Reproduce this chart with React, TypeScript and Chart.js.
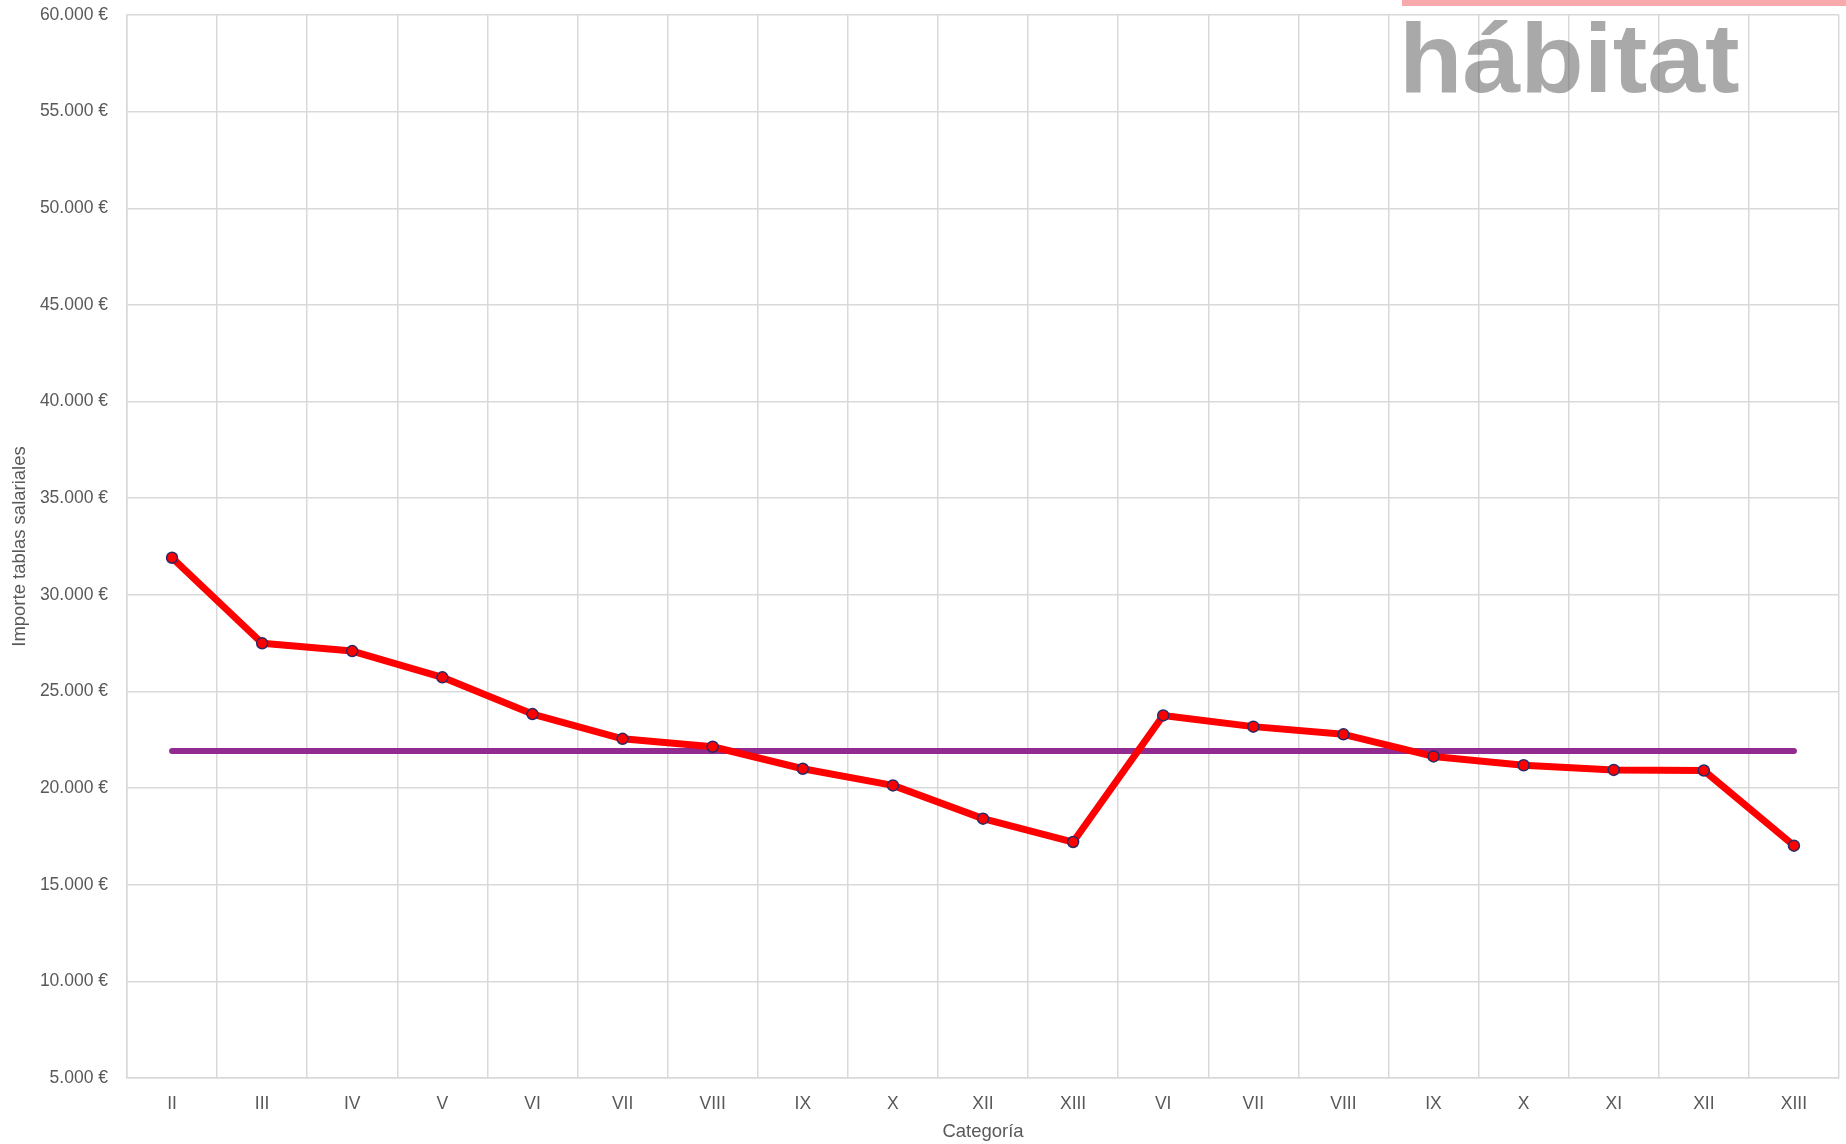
import React, { useEffect, useRef } from "react";
import { Chart, registerables } from "chart.js";

Chart.register(...registerables);

const categories = ["II", "III", "IV", "V", "VI", "VII", "VIII", "IX", "X", "XII", "XIII", "VI", "VII", "VIII", "IX", "X", "XI", "XII", "XIII"];
const salaries = [31920, 27490, 27090, 25730, 23830, 22550, 22140, 21000, 20140, 18420, 17210, 23760, 23180, 22780, 21640, 21180, 20940, 20910, 17020];
const average = [21920, 21920, 21920, 21920, 21920, 21920, 21920, 21920, 21920, 21920, 21920, 21920, 21920, 21920, 21920, 21920, 21920, 21920, 21920];
const yMin = 5000;
const yMax = 60000;
const yStep = 5000;
const xTitle = "Categoría";
const yTitle = "Importe tablas salariales";
const logoText = "hábitat";

const W = 1846;
const H = 1144;
const FONT = "'Liberation Sans', Arial, sans-serif";
const TXT = "#595959";
const GRID = "#d9d9d9";

function fmt(v: number): string {
  const s = Math.round(v).toString();
  const withDots = s.replace(/\B(?=(\d{3})+(?!\d))/g, ".");
  return withDots + " €";
}

export default function App() {
  const ref = useRef<HTMLCanvasElement | null>(null);

  useEffect(() => {
    document.body.style.margin = "0";
    const canvas = ref.current;
    if (!canvas) return;
    const chart = new Chart(canvas, {
      type: "line",
      data: {
        labels: categories,
        datasets: [
          {
            label: "Media",
            data: average,
            borderColor: "#912b8f",
            backgroundColor: "#912b8f",
            borderWidth: 6,
            pointRadius: 0,
            borderCapStyle: "round",
            tension: 0,
            order: 2,
          },
          {
            label: "Importe",
            data: salaries,
            borderColor: "#ff0000",
            backgroundColor: "#ff0000",
            borderWidth: 7,
            pointRadius: 5.5,
            pointBorderWidth: 1.5,
            pointBorderColor: "#2a2a66",
            pointBackgroundColor: "#ff0000",
            borderJoinStyle: "round",
            tension: 0,
            order: 1,
          },
        ],
      },
      options: {
        responsive: false,
        animation: false,
        layout: { padding: { top: 15, right: 6, left: 0, bottom: 0 } },
        plugins: {
          legend: { display: false },
          tooltip: { enabled: false },
        },
        scales: {
          x: {
            type: "category",
            offset: true,
            grid: { color: GRID, lineWidth: 1.5, drawTicks: false, offset: true },
            border: { color: GRID, width: 1.5 },
            ticks: {
              color: TXT,
              font: { family: FONT, size: 17.5 },
              padding: 16,
              maxRotation: 0,
              autoSkip: false,
            },
            title: {
              display: true,
              text: xTitle,
              color: TXT,
              font: { family: FONT, size: 18.5 },
              padding: { top: 0, bottom: 1 },
            },
            afterFit: (scale: any) => {
              scale.height = 66;
              scale.paddingLeft = 0;
              scale.paddingRight = 0;
            },
          },
          y: {
            min: yMin,
            max: yMax,
            grid: { color: GRID, lineWidth: 1.5, drawTicks: false },
            border: { color: GRID, width: 1.5 },
            ticks: {
              stepSize: yStep,
              color: TXT,
              font: { family: FONT, size: 17.5 },
              padding: 19,
              callback: (v: any) => fmt(Number(v)),
            },
            title: {
              display: true,
              text: yTitle,
              color: TXT,
              font: { family: FONT, size: 18.5 },
              padding: { top: 9, bottom: 0 },
            },
            afterFit: (scale: any) => {
              scale.width = 127;
              scale.paddingTop = 0;
              scale.paddingBottom = 0;
            },
          },
        },
      },
    });
    return () => chart.destroy();
  }, []);

  return (
    <div style={{ position: "relative", width: W, height: H, background: "#fff", overflow: "hidden" }}>
      <canvas ref={ref} width={W} height={H} style={{ display: "block", width: W, height: H }} />
      <div
        style={{
          position: "absolute",
          left: 1402,
          top: 0,
          width: W - 1402,
          height: 6,
          background: "#f7a9ac",
        }}
      />
      <div
        style={{
          position: "absolute",
          left: 1399,
          top: 8,
          fontFamily: FONT,
          fontWeight: 700,
          fontSize: 99,
          lineHeight: "99px",
          letterSpacing: "0px",
          transform: "scaleX(1.05)",
          transformOrigin: "left top",
          color: "rgba(90,90,90,0.52)",
          whiteSpace: "nowrap",
          pointerEvents: "none",
        }}
      >
        {logoText}
      </div>
    </div>
  );
}
